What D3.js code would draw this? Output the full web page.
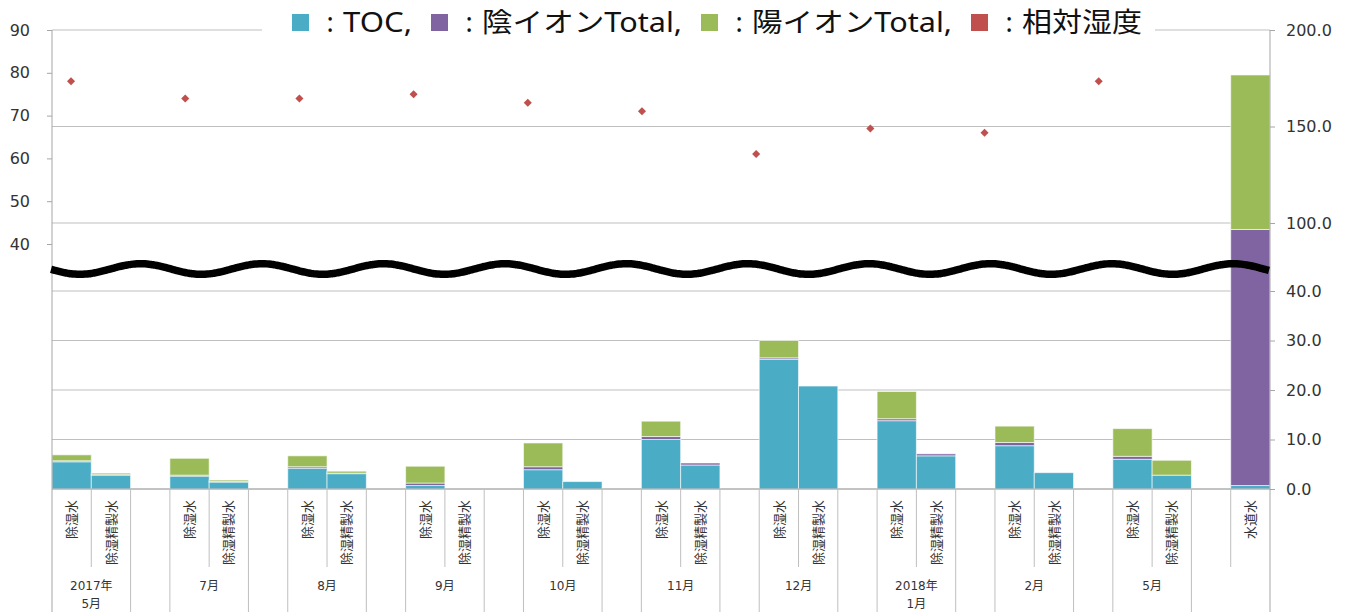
<!DOCTYPE html>
<html>
<head>
<meta charset="utf-8">
<script src="https://cdn.jsdelivr.net/npm/d3@7"></script>
<style>
    body { margin: 0; background: white; }
    svg { display: block; }
    .lbl { font-family: "DejaVu Sans", "Noto Sans CJK JP", sans-serif; fill: #333; }
</style>
</head>
<body>
<svg id="chart" width="1347" height="612"></svg>
<script>
// months along the bottom (outer labels)
const months = ["2017年\n5月", "7月", "8月", "9月", "10月", "11月", "12月", "2018年\n1月", "2月", "5月"];
const subCats = ["除湿水", "除湿精製水"];

// values per month: [除湿水, 除湿精製水]
const tocVals    = [[5.5, 2.8], [2.6, 1.4], [4.2, 3.1], [0.7, 0], [3.9, 1.5], [10.0, 4.85], [26.2, 20.8], [13.8, 6.7], [8.75, 3.3], [6.0, 2.8]];
const anionVals  = [[0.2, 0.1], [0.2, 0.1], [0.3, 0.1], [0.5, 0], [0.6, 0], [0.6, 0.4], [0.3, 0], [0.4, 0.4], [0.65, 0], [0.6, 0]];
const cationVals = [[1.2, 0.3], [3.4, 0.3], [2.2, 0.4], [3.4, 0], [4.8, 0], [3.1, 0], [3.5, 0], [5.5, 0], [3.3, 0], [5.6, 3.0]];

// tap water (水道水) bar on the far right
const tapLabel = "水道水";
const tapToc = 0.7, tapAnion = 93.6, tapCation = 82.4;

// relative humidity, one per month (left axis)
const humidity = [78, 74, 74, 75, 73, 71, 61, 67, 66, 78];

// tick labels
const leftTicks = [40, 50, 60, 70, 80, 90];
const rightTicks = [0, 10, 20, 30, 40, 100, 150, 200];

const legendNames = ["TOC,", "陰イオンTotal,", "陽イオンTotal,", "相対湿度"];
const legendColors = ["#4bacc6", "#8064a2", "#9bbb59", "#c0504d"];
const legendWidths = [69, 200, 200, 120]; // text widths so it spans like the original

const keys = ["toc", "anion", "cation"];
const colors = {toc: "#4bacc6", anion: "#8064a2", cation: "#9bbb59"};

const plot = {left: 52, right: 1270, top: 30, bottom: 489};

// build the 31 slots: per month [除湿水, 除湿精製水, blank], then tap water
function buildSlots(){
    let slots = [];
    months.forEach((m, i) => {
        subCats.forEach((s, j) => {
            slots.push({id: i * 3 + j, label: s, toc: tocVals[i][j], anion: anionVals[i][j], cation: cationVals[i][j]});
        });
        slots.push({id: i * 3 + 2, label: "", toc: 0, anion: 0, cation: 0});
    });
    slots.push({id: 30, label: tapLabel, toc: tapToc, anion: tapAnion, cation: tapCation});
    return slots;
}

function drawGrid(chart, yR){
    chart.append("g")
        .selectAll("line").data(rightTicks).enter().append("line")
        .attr("x1", plot.left).attr("x2", plot.right)
        .attr("y1", d => yR(d)).attr("y2", d => yR(d))
        .attr("stroke", "#bfbfbf").attr("stroke-width", 1.2);
}

function drawBars(chart, slots, x, yR){
    let series = d3.stack().keys(keys)(slots);
    chart.append("g").selectAll("g").data(series).enter().append("g")
        .attr("fill", d => colors[d.key])
        .selectAll("rect").data(d => d).enter().append("rect")
        .attr("x", d => x(d.data.id))
        .attr("width", x.bandwidth())
        .attr("y", d => yR(d[1]))
        .attr("height", d => Math.max(0, yR(d[0]) - yR(d[1])))
        .attr("stroke", "rgba(255,255,255,0.6)")
        .attr("stroke-width", 1);
}

function drawHumidity(chart, yL){
    // humidity sits on its own (secondary) category axis, 32 slots wide
    let xHum = d3.scaleBand().domain(d3.range(32)).range([plot.left, plot.right]);
    chart.append("g").selectAll("path").data(humidity).enter().append("path")
        .attr("d", d3.symbol(d3.symbolSquare, 32))
        .attr("transform", (d, i) => `translate(${xHum(i * 3) + xHum.bandwidth() / 2},${yL(d)}) rotate(45)`)
        .attr("fill", "#c0504d");
}

function drawAxes(chart, yL, yR){
    // left axis (humidity)
    let gl = chart.append("g")
        .attr("transform", `translate(${plot.left},0)`)
        .call(d3.axisLeft(yL).tickValues(leftTicks).tickSize(5).tickPadding(17).tickSizeOuter(0));
    gl.select(".domain").remove();
    gl.selectAll("line").attr("stroke", "#a6a6a6");
    gl.selectAll("text").attr("class", "lbl").style("font-size", "16px");

    // right axis (broken scale)
    let gr = chart.append("g")
        .attr("transform", `translate(${plot.right},0)`)
        .call(d3.axisRight(yR).tickValues(rightTicks).tickFormat(d3.format(".1f")).tickSize(5).tickPadding(11).tickSizeOuter(0));
    gr.select(".domain").remove();
    gr.selectAll("line").attr("stroke", "#a6a6a6");
    gr.selectAll("text").attr("class", "lbl").style("font-size", "16px");

    // vertical axis lines run down through the category area
    chart.append("line").attr("x1", plot.left).attr("x2", plot.left)
        .attr("y1", plot.top).attr("y2", 612).attr("stroke", "#a6a6a6");
    chart.append("line").attr("x1", plot.right).attr("x2", plot.right)
        .attr("y1", plot.top).attr("y2", 612).attr("stroke", "#a6a6a6");
    chart.append("line").attr("x1", plot.left).attr("x2", plot.right)
        .attr("y1", plot.bottom).attr("y2", plot.bottom).attr("stroke", "#a6a6a6");
}

function drawCategories(chart, slots, x){
    // long separators around the blank slots, short ones between sub categories
    let longs = [], shorts = [];
    months.forEach((m, i) => {
        shorts.push(x(i * 3 + 1));
        longs.push(x(i * 3 + 2));
        if (i < months.length - 1) longs.push(x(i * 3 + 3));
    });
    shorts.push(x(30));

    chart.append("g").selectAll("line").data(longs).enter().append("line")
        .attr("x1", d => d).attr("x2", d => d)
        .attr("y1", plot.bottom).attr("y2", 612)
        .attr("stroke", "#bfbfbf");
    chart.append("g").selectAll("line").data(shorts).enter().append("line")
        .attr("x1", d => d).attr("x2", d => d)
        .attr("y1", plot.bottom).attr("y2", 567)
        .attr("stroke", "#bfbfbf");

    // rotated sub labels
    chart.append("g").selectAll("text").data(slots.filter(d => d.label !== "")).enter().append("text")
        .attr("class", "lbl")
        .attr("transform", d => `translate(${x(d.id) + x.bandwidth() / 2},${plot.bottom + 11}) rotate(-90)`)
        .attr("text-anchor", "end")
        .attr("dy", "0.36em")
        .style("font-size", "13px")
        .text(d => d.label);

    // month labels
    let mg = chart.append("g").selectAll("text").data(months).enter().append("text")
        .attr("class", "lbl")
        .attr("text-anchor", "middle")
        .attr("x", (d, i) => x(i * 3 + 1))
        .attr("y", 590)
        .style("font-size", "12px");
    mg.each(function(d){
        let lines = d.split("\n");
        let t = d3.select(this);
        lines.forEach((l, k) => {
            t.append("tspan").attr("x", t.attr("x")).attr("dy", k === 0 ? 0 : 18).text(l);
        });
    });
}

function drawBreak(chart){
    // wavy break marker across the plot
    let pts = d3.range(plot.left - 1, plot.right + 1, 2).map(v => [v, 269 + 5.3 * Math.cos(2 * Math.PI * (v - 80) / 121.4)]);
    chart.append("path")
        .attr("d", d3.line().curve(d3.curveBasis)(pts))
        .attr("fill", "none")
        .attr("stroke", "#000")
        .attr("stroke-width", 7.5);
}

function drawLegend(chart){
    chart.append("rect").attr("x", 262).attr("y", 0).attr("width", 893).attr("height", 42).attr("fill", "white");
    let g = chart.append("g");
    let cx = 292;
    legendNames.forEach((name, i) => {
        g.append("rect").attr("x", cx).attr("y", 14).attr("width", 17).attr("height", 17).attr("fill", legendColors[i]);
        g.append("text")
            .attr("x", cx + 38).attr("y", 32)
            .attr("text-anchor", "middle")
            .style("font-family", "'Noto Sans', 'Noto Sans CJK JP', sans-serif")
            .style("font-size", "27px")
            .attr("fill", "#111")
            .text(":");
        g.append("text")
            .attr("x", cx + 51).attr("y", 32)
            .style("font-family", "'Noto Sans', 'Noto Sans CJK JP', sans-serif")
            .style("font-size", "27px")
            .attr("fill", "#111")
            .attr("textLength", legendWidths[i])
            .attr("lengthAdjust", "spacingAndGlyphs")
            .text(name);
        cx = cx + 51 + legendWidths[i] + 19;
    });
}

function setup(){
    let chart = d3.select("#chart");
    let slots = buildSlots();

    let x = d3.scaleBand().domain(d3.range(31)).range([plot.left, plot.right]).padding(0);
    // broken right scale: 0-40 below the wave, 100-200 above it
    let yR = d3.scaleLinear().domain([0, 40, 100, 200]).range([plot.bottom, 291, 223, plot.top]);
    let yL = d3.scaleLinear().domain([40, 90]).range([244, plot.top]);

    drawGrid(chart, yR);
    drawBars(chart, slots, x, yR);
    drawAxes(chart, yL, yR);
    drawCategories(chart, slots, x);
    drawHumidity(chart, yL);
    drawBreak(chart);
    drawLegend(chart);
}
setup();
</script>
</body>
</html>
